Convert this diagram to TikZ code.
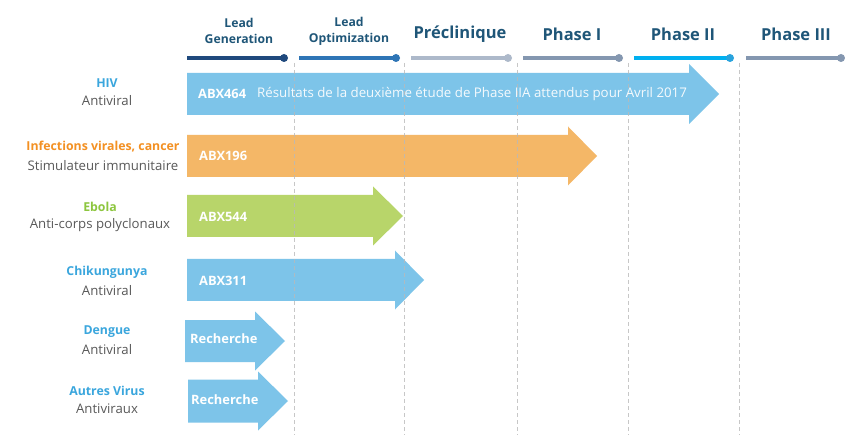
\documentclass[tikz,border=0pt]{standalone}
\usepackage{fontspec}
\setmainfont{Open Sans}
\definecolor{hdrcol}{RGB}{31,86,120}
\definecolor{lgcol}{RGB}{31,73,125}
\definecolor{locol}{RGB}{46,117,182}
\definecolor{prcol}{RGB}{173,185,202}
\definecolor{p1col}{RGB}{132,151,176}
\definecolor{p2col}{RGB}{0,176,240}
\definecolor{p2dot}{RGB}{41,163,221}
\definecolor{arrblue}{RGB}{125,196,233}
\definecolor{arrorange}{RGB}{244,183,103}
\definecolor{arrgreen}{RGB}{184,213,106}
\definecolor{ttlblue}{RGB}{58,166,221}
\definecolor{ttlorange}{RGB}{243,144,34}
\definecolor{ttlgreen}{RGB}{141,198,63}
\definecolor{subgray}{RGB}{89,89,89}
\newcommand{\fatarrow}[7]{% colour, x0, centre y, half body, head x, half head, tip x
  \fill[#1] (#2,{#3-#4}) -- (#5,{#3-#4}) -- (#5,{#3-#6}) -- (#7,#3) -- (#5,{#3+#6}) -- (#5,{#3+#4}) -- (#2,{#3+#4}) -- cycle;}
\begin{document}
\begin{tikzpicture}[x=1pt,y=-1pt,
  hdr/.style={font=\bfseries\fontsize{16.5}{19}\selectfont, text=hdrcol},
  hdrsmall/.style={font=\bfseries\fontsize{12.2}{16}\selectfont, text=hdrcol, align=center},
  ttl/.style={font=\bfseries\fontsize{12.3}{15}\selectfont},
  subt/.style={font=\fontsize{13.2}{15}\selectfont, text=subgray},
  lbl/.style={font=\bfseries\fontsize{12.9}{15}\selectfont, text=white, anchor=west, inner sep=0pt},
  stage/.style={line width=3.2pt},
  guide/.style={draw=gray!55, line width=0.6pt, dash pattern=on 4pt off 3pt, opacity=0.8}]
\useasboundingbox (0,0) rectangle (845,435);
\fill[white] (0,0) rectangle (845,435);

% header stage lines
\coordinate (lgA) at (187,58); \coordinate (lgB) at (284,58);
\coordinate (loA) at (299,58); \coordinate (loB) at (396,58);
\coordinate (prA) at (411,58); \coordinate (prB) at (508,58);
\coordinate (p1A) at (523,58); \coordinate (p1B) at (619,58);
\coordinate (p2A) at (634,58); \coordinate (p2B) at (730,58);
\coordinate (p3A) at (746,58); \coordinate (p3B) at (841,58);
\draw[stage,lgcol] (lgA) -- (lgB); \fill[lgcol] (lgB) circle (4);
\draw[stage,locol] (loA) -- (loB); \fill[locol] (loB) circle (4);
\draw[stage,prcol] (prA) -- (prB); \fill[prcol] (prB) circle (4);
\draw[stage,p1col] (p1A) -- (p1B); \fill[p1col] (p1B) circle (4);
\draw[stage,p2col] (p2A) -- (p2B); \fill[p2dot] (p2B) circle (4);
\draw[stage,p1col] (p3A) -- (p3B); \fill[p1col] (p3B) circle (4);

% header labels
\node[hdrsmall] (hLG) at (239,31) {Lead\\Generation};
\node[hdrsmall] (hLO) at (349,31) {Lead\\Optimization};
\node[hdr] (hPR) at (460,34) {Préclinique};
\node[hdr] (hP1) at (572,34) {Phase I};
\node[hdr] (hP2) at (683,34) {Phase II};
\node[hdr] (hP3) at (796,34) {Phase III};

% arrows
\fatarrow{arrblue}{187}{94}{21}{689}{30}{719}
\fatarrow{arrorange}{187}{156}{21}{568}{29.5}{597}
\fatarrow{arrgreen}{187}{216}{21}{373}{29.5}{403}
\fatarrow{arrblue}{187}{280}{21}{395}{29.5}{424}
\fatarrow{arrblue}{185}{341}{21}{255}{29.5}{285}
\fatarrow{arrblue}{188}{401}{21.5}{258}{29.5}{288}

% guides
\foreach \gx/\gn in {294/g1,404/g2,517/g3,628/g4,739/g5}{
  \coordinate (\gn t) at (\gx,63); \coordinate (\gn b) at (\gx,435);
  \draw[guide] (\gn t) -- (\gn b);}

% arrow labels
\node[lbl] (a464) at (198,94) {ABX464};
\node[font=\fontsize{13.3}{15}\selectfont, text=white!92!arrblue, anchor=west, inner sep=0pt] (res) at (257,94) {Résultats de la deuxième étude de Phase IIA attendus pour Avril 2017};
\node[lbl] (a196) at (199,156) {ABX196};
\node[lbl] (a544) at (199,217) {ABX544};
\node[lbl] (a311) at (199,281) {ABX311};
\node[lbl] (rch1) at (190,339) {Recherche};
\node[lbl] (rch2) at (191,400) {Recherche};

% left labels
\node[ttl,text=ttlblue] (t1) at (107,83) {HIV};
\node[subt] (s1) at (107,101) {Antiviral};
\node[ttl,text=ttlorange] (t2) at (103,147) {Infections virales, cancer};
\node[subt] (s2) at (103,166) {Stimulateur immunitaire};
\node[ttl,text=ttlgreen] (t3) at (100,207) {Ebola};
\node[subt] (s3) at (100,225) {Anti-corps polyclonaux};
\node[ttl,text=ttlblue] (t4) at (107,272) {Chikungunya};
\node[subt] (s4) at (107,291) {Antiviral};
\node[ttl,text=ttlblue] (t5) at (107,332) {Dengue};
\node[subt] (s5) at (107,350) {Antiviral};
\node[ttl,text=ttlblue] (t6) at (107,391) {Autres Virus};
\node[subt] (s6) at (107,409) {Antiviraux};
\end{tikzpicture}
\end{document}
